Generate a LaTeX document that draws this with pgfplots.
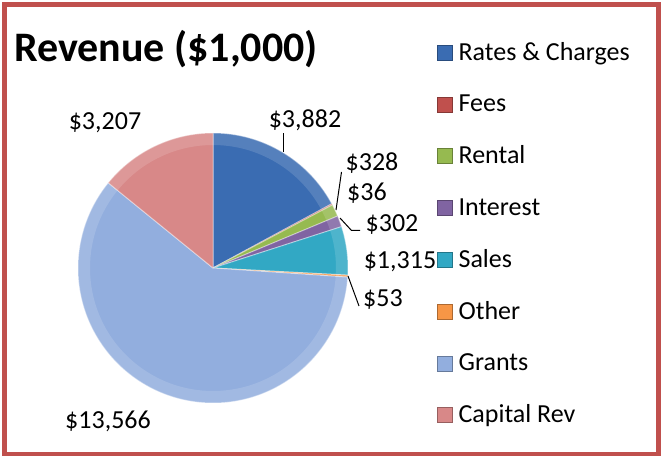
\documentclass[border=0pt]{standalone}
\usepackage{pgfplots}
\pgfplotsset{compat=1.18}
\usepackage{pgfplotstable}
\usepackage{fontspec}
\setmainfont{Carlito}

\definecolor{c0}{RGB}{58,108,178}
\definecolor{c1}{RGB}{192,80,77}
\definecolor{c2}{RGB}{150,186,80}
\definecolor{c3}{RGB}{128,100,162}
\definecolor{c4}{RGB}{50,168,196}
\definecolor{c5}{RGB}{247,150,70}
\definecolor{c6}{RGB}{146,174,222}
\definecolor{c7}{RGB}{216,136,136}
\definecolor{frame}{RGB}{192,80,77}

\pgfplotstableread{
name value
RatesCharges 3882
Fees 36
Rental 328
Interest 302
Sales 1315
Other 53
Grants 13566
CapitalRev 3207
}\piedata

\begin{document}
\begin{tikzpicture}
\path[use as bounding box] (0,0) rectangle (661bp,456bp);
% total (in thousands to stay within pgfmath range)
\xdef\total{0}
\foreach \i in {0,...,7}{%
  \pgfplotstablegetelem{\i}{value}\of\piedata
  \pgfmathsetmacro\t{\total+\pgfplotsretval/1000}%
  \xdef\total{\t}%
}
\xdef\cum{90}
\foreach \i in {0,...,7}{%
  \pgfplotstablegetelem{\i}{value}\of\piedata
  \pgfmathsetmacro\sweep{\pgfplotsretval*0.36/\total}%
  \expandafter\xdef\csname sa\i\endcsname{\cum}%
  \pgfmathsetmacro\nc{\cum-\sweep}%
  \expandafter\xdef\csname ea\i\endcsname{\nc}%
  \xdef\cum{\nc}%
}
\begin{axis}[
  x=1bp, y=1bp, xmin=0, xmax=661, ymin=0, ymax=456,
  at={(0,0)}, anchor=south west,
  hide axis, clip=false,
  legend image code/.code={\draw[#1, line width=0.6bp] (0bp,0bp) rectangle (15bp,15bp);},
  legend style={at={(axis cs:437,413)}, anchor=north west, draw=none, fill=none,
    inner sep=0pt, outer sep=0pt, row sep=34.5bp, column sep=6bp,
    font=\fontsize{26bp}{31bp}\selectfont,
    cells={anchor=base west},
    nodes={inner sep=0pt, text height=17bp, text depth=0pt}},
]
% border
\draw[frame, line width=5bp] (axis cs:4.5,1.5) rectangle (axis cs:658.5,451);
% pie slices
\pgfplotsinvokeforeach{0,...,7}{
  \fill[c#1] (axis cs:213,188) -- ++(\csname sa#1\endcsname:135bp)
     arc[start angle=\csname sa#1\endcsname, end angle=\csname ea#1\endcsname, radius=135bp] -- cycle;
  \fill[white, opacity=0.14] (axis cs:213,188) ++(\csname sa#1\endcsname:135bp)
     arc[start angle=\csname sa#1\endcsname, end angle=\csname ea#1\endcsname, radius=135bp]
     -- ++({\csname ea#1\endcsname+180}:12bp)
     arc[start angle=\csname ea#1\endcsname, end angle=\csname sa#1\endcsname, radius=123bp] -- cycle;
  \draw[white, opacity=0.4, line width=1bp, line join=round] (axis cs:213,188) -- ++(\csname sa#1\endcsname:135bp)
     arc[start angle=\csname sa#1\endcsname, end angle=\csname ea#1\endcsname, radius=135bp] -- cycle;
}
% legend
\addlegendimage{fill=c0, draw=c0!70!black}\addlegendentry{Rates \& Charges}
\addlegendimage{fill=c1, draw=c1!70!black}\addlegendentry{Fees}
\addlegendimage{fill=c2, draw=c2!70!black}\addlegendentry{Rental}
\addlegendimage{fill=c3, draw=c3!70!black}\addlegendentry{Interest}
\addlegendimage{fill=c4, draw=c4!70!black}\addlegendentry{Sales}
\addlegendimage{fill=c5, draw=c5!70!black}\addlegendentry{Other}
\addlegendimage{fill=c6, draw=c6!70!black}\addlegendentry{Grants}
\addlegendimage{fill=c7, draw=c7!70!black}\addlegendentry{Capital Rev}
% title
\node[anchor=base west, inner sep=0pt, font=\fontsize{42bp}{50bp}\selectfont\bfseries]
  at (axis cs:14,394) {Revenue (\$1,000)};
% leader lines
\draw[black, line width=1bp] (axis cs:283,304) -- (axis cs:283,323);
\draw[black, line width=1bp] (axis cs:336,246) -- (axis cs:341.5,284);
\draw[black, line width=1bp] (axis cs:340,238) -- (axis cs:351.5,225.5) -- (axis cs:360,225.5);
\draw[black, line width=1bp] (axis cs:348,180) -- (axis cs:359,150);
% data labels
\begin{scope}[every node/.style={inner sep=0pt, font=\fontsize{26bp}{31bp}\selectfont}]
\node at (axis cs:305,336) {\$3,882};
\node at (axis cs:105,333) {\$3,207};
\node at (axis cs:372,293) {\$328};
\node at (axis cs:367,263) {\$36};
\node at (axis cs:392,231) {\$302};
\node at (axis cs:400,194) {\$1,315};
\node at (axis cs:383,156) {\$53};
\node at (axis cs:108,35) {\$13,566};
\end{scope}
\end{axis}
\end{tikzpicture}
\end{document}
